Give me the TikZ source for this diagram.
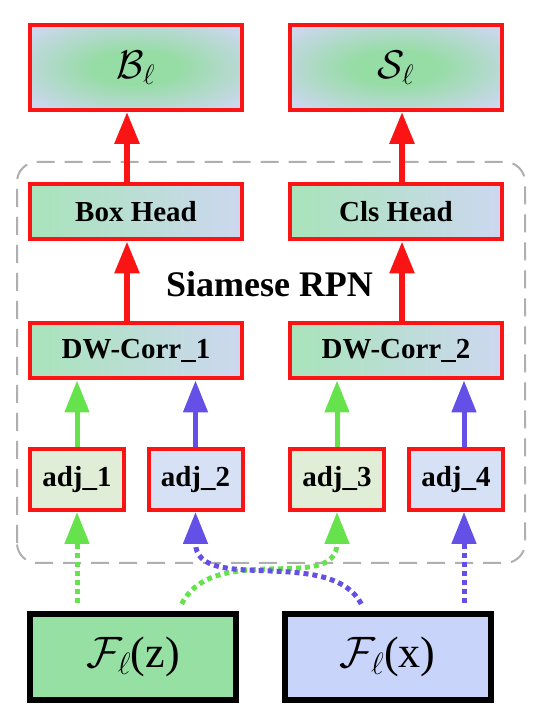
\RequirePackage{fix-cm}
\documentclass[tikz,border=0pt]{standalone}
\usepackage{fontspec}
\setmainfont{Liberation Serif}
\usetikzlibrary{arrows.meta}

\definecolor{boxred}{RGB}{250,20,20}
\definecolor{framegray}{RGB}{175,175,175}
\definecolor{arrgreen}{RGB}{102,226,77}
\definecolor{arrblue}{RGB}{100,80,230}
\definecolor{shadegreen}{RGB}{150,220,165}
\definecolor{shadeblue}{RGB}{205,215,240}
\definecolor{headgreen}{RGB}{168,228,186}
\definecolor{adjgreen}{RGB}{225,238,215}
\definecolor{adjblue}{RGB}{215,225,245}
\definecolor{featgreen}{RGB}{150,224,164}
\definecolor{featblue}{RGB}{200,212,250}

\pgfdeclareradialshading{outglow}{\pgfpoint{0bp}{0bp}}{color(0bp)=(shadegreen);
  color(10bp)=(shadegreen); color(33bp)=(shadeblue); color(50bp)=(shadeblue)}

\tikzset{
  redbox/.style={draw=boxred, line width=4pt, inner sep=0pt,
    font=\fontsize{29}{32}\selectfont\bfseries},
  outbox/.style={redbox, minimum width=212pt, minimum height=85pt,
    shading=outglow, font=\fontsize{40}{44}\selectfont},
  headbox/.style={redbox, minimum width=212pt, minimum height=55pt,
    left color=headgreen, right color=shadeblue},
  adjbox/.style={redbox, minimum width=94pt, minimum height=61pt},
  featbox/.style={draw=black, line width=6pt, minimum width=206pt,
    minimum height=86pt, font=\fontsize{44}{48}\selectfont},
  tip/.style={-{Triangle[length=32pt,width=24pt]}},
  redarrow/.style={tip, draw=boxred, line width=6pt},
  greenarrow/.style={tip, draw=arrgreen, line width=5pt},
  bluearrow/.style={tip, draw=arrblue, line width=5pt},
  greendots/.style={greenarrow, dash pattern=on 5pt off 4pt, shorten <=8pt},
  bluedots/.style={bluearrow, dash pattern=on 5pt off 4pt, shorten <=8pt},
  rpnframe/.style={draw=framegray, line width=2pt,
    dash pattern=on 18pt off 10pt, rounded corners=20pt}
}

\begin{document}
\begin{tikzpicture}[x=1pt, y=1pt]
  \useasboundingbox (0,0) rectangle (535,715);

  \draw[rpnframe] (17,152) rectangle (525,553); % siamese rpn
  \node[font=\fontsize{36}{40}\selectfont\bfseries, anchor=base] (rpn) at (269.5,418) {Siamese RPN};

  \node[outbox] (bl) at (136,647.5) {$\mathcal{B}_\ell$};
  \node[outbox] (sl) at (396,647.5) {$\mathcal{S}_\ell$};
  \node[headbox] (boxhead) at (136,503) {Box Head};
  \node[headbox] (clshead) at (396,503) {Cls Head};
  \node[headbox] (dw1) at (136,364) {DW-Corr\_1};
  \node[headbox] (dw2) at (396,364) {DW-Corr\_2};
  \node[adjbox, fill=adjgreen] (adj1) at (77,235.5) {adj\_1};
  \node[adjbox, fill=adjblue] (adj2) at (195.5,235.5) {adj\_2};
  \node[adjbox, fill=adjgreen] (adj3) at (337,235.5) {adj\_3};
  \node[adjbox, fill=adjblue] (adj4) at (456,235.5) {adj\_4};
  \node[featbox, fill=featgreen] (fz) at (133,58) {$\mathcal{F}_\ell$(z)};
  \node[featbox, fill=featblue] (fx) at (387.5,58) {$\mathcal{F}_\ell$(x)};

  % heads
  \draw[redarrow] ([xshift=-9pt]boxhead.north) -- ([xshift=-9pt]bl.south);
  \draw[redarrow] ([xshift=6pt]clshead.north) -- ([xshift=6pt]sl.south);
  \draw[redarrow] ([xshift=-9pt]dw1.north) -- ([xshift=-9pt]boxhead.south);
  \draw[redarrow] ([xshift=6pt]dw2.north) -- ([xshift=6pt]clshead.south);

  % adjust layers
  \draw[greenarrow] (adj1.north) -- (adj1.north |- dw1.south);
  \draw[bluearrow] (adj2.north) -- (adj2.north |- dw1.south);
  \draw[greenarrow] (adj3.north) -- (adj3.north |- dw2.south);
  \draw[bluearrow] ([xshift=8pt]adj4.north) -- ([xshift=8pt]adj4.north |- dw2.south);

  % features
  \draw[greendots] (adj1.south |- fz.north) -- (adj1.south);
  \draw[greendots] ([xshift=45pt]fz.north) .. controls +(37pt,71pt) and +(0pt,-83pt) .. (adj3.south);
  \draw[bluedots] ([xshift=-22.5pt]fx.north) .. controls +(-35pt,66pt) and +(0pt,-83pt) .. (adj2.south);
  \draw[bluedots] ([xshift=8pt]adj4.south |- fx.north) -- ([xshift=8pt]adj4.south);
\end{tikzpicture}
\end{document}
